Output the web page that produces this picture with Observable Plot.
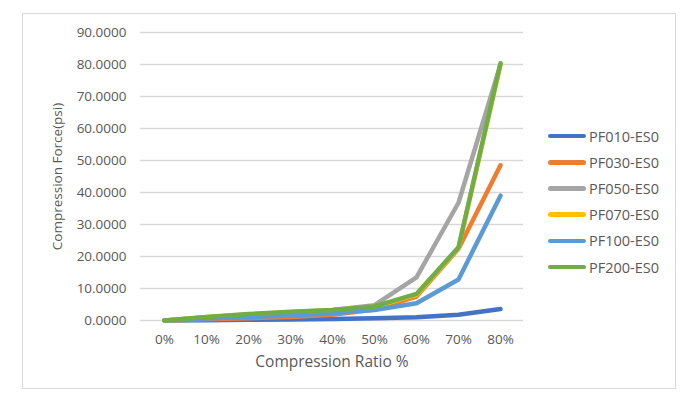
<!DOCTYPE html>
<html>
<head>
<meta charset="utf-8">
<script src="https://cdn.jsdelivr.net/npm/d3@7"></script>
<script src="https://cdn.jsdelivr.net/npm/@observablehq/plot@0.6"></script>
<style>
  html, body { margin: 0; padding: 0; background: #fff; }
  #wrap { position: relative; width: 700px; height: 402px; font-family: "Open Sans", sans-serif; }
  #frame { position: absolute; left: 22px; top: 13px; width: 652px; height: 374px; border: 1.5px solid #d9d9d9; }
  #chart { position: absolute; left: 0; top: 0; }
  #legend { position: absolute; left: 548px; top: 123px; }
  .item { display: flex; align-items: center; height: 26.2px; font-size: 14.5px; color: #595959; }
  .sw { width: 38px; height: 4.5px; border-radius: 3px; margin-right: 3px; }
  #chart svg g[aria-label="x-axis label"] text { font-size: 15.5px; }
</style>
</head>
<body>
<div id="wrap">
  <div id="frame"></div>
  <div id="chart"></div>
  <div id="legend"></div>
</div>
<script>
const ratios = ["0%", "10%", "20%", "30%", "40%", "50%", "60%", "70%", "80%"];
const seriesNames = ["PF010-ES0", "PF030-ES0", "PF050-ES0", "PF070-ES0", "PF100-ES0", "PF200-ES0"];
const colors = ["#4472C4", "#ED7D31", "#A5A5A5", "#FFC000", "#5B9BD5", "#70AD47"];
const PF010 = [0, 0.1, 0.2, 0.3, 0.5, 0.7, 1.0, 1.8, 3.6];
const PF030 = [0, 0.4, 0.7, 1.1, 1.8, 3.4, 7.5, 22.4, 48.5];
const PF050 = [0, 1.0, 1.9, 2.5, 3.3, 4.8, 13.5, 36.8, 80.0];
const PF070 = [0, 1.0, 1.9, 2.6, 3.2, 4.3, 8.0, 22.6, 80.0];
const PF100 = [0, 0.6, 1.1, 1.6, 2.3, 3.3, 5.4, 12.8, 39.0];
const PF200 = [0, 1.1, 2.0, 2.7, 3.3, 4.4, 8.3, 22.9, 80.4];
const valueLists = [PF010, PF030, PF050, PF070, PF100, PF200];
const yTicks = [0, 10, 20, 30, 40, 50, 60, 70, 80, 90];

const data = [];
seriesNames.forEach((s, i) => ratios.forEach((r, j) => data.push({series: s, ratio: r, value: valueLists[i][j]})));

const chart = Plot.plot({
  width: 700,
  height: 402,
  marginLeft: 140,
  marginRight: 177,
  marginTop: 32,
  marginBottom: 82,
  style: {fontFamily: "Open Sans, sans-serif", fontSize: "13.5px", color: "#595959", background: "transparent"},
  x: {type: "point", domain: ratios, padding: 0.5},
  y: {domain: [0, 90]},
  color: {domain: seriesNames, range: colors},
  marks: [
    Plot.gridY(yTicks, {stroke: "#d9d9d9", strokeOpacity: 1, strokeWidth: 1.5}),
    Plot.axisY(yTicks, {tickSize: 0, tickPadding: 14, tickFormat: d3.format(".4f"), fill: "#595959",
      label: "Compression Force(psi)", labelAnchor: "center", labelArrow: "none", labelOffset: 88}),
    Plot.axisX({tickSize: 0, tickPadding: 14, fill: "#595959",
      label: "Compression Ratio %", labelAnchor: "center", labelArrow: "none", labelOffset: 46}),
    Plot.line(data, {x: "ratio", y: "value", z: "series", stroke: "series", strokeWidth: 4.5,
      strokeLinecap: "round", strokeLinejoin: "round"})
  ]
});
document.getElementById("chart").appendChild(chart);

const legend = document.getElementById("legend");
seriesNames.forEach((s, i) => {
  const item = document.createElement("div");
  item.className = "item";
  const sw = document.createElement("div");
  sw.className = "sw";
  sw.style.background = colors[i];
  const t = document.createElement("span");
  t.textContent = s;
  item.appendChild(sw);
  item.appendChild(t);
  legend.appendChild(item);
});
</script>
</body>
</html>
